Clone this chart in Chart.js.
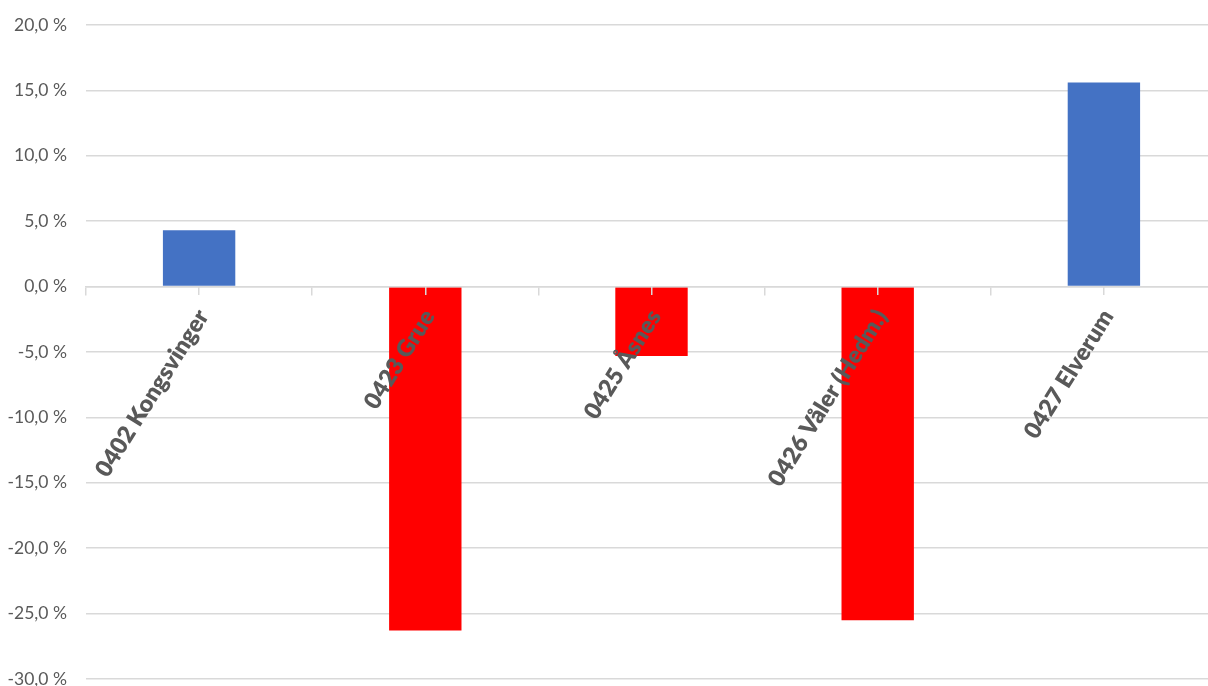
<!DOCTYPE html>
<html>
<head>
<meta charset="utf-8">
<script src="https://cdn.jsdelivr.net/npm/chart.js@4.4.1/dist/chart.umd.min.js"></script>
<style>
  html, body { margin: 0; padding: 0; background: #ffffff; overflow: hidden; }
  #frame { width: 1208px; height: 686px; overflow: hidden; }
  #wrap { width: 1217px; height: 686px; }
</style>
</head>
<body>
<div id="frame"><div id="wrap"><canvas id="changeChart"></canvas></div></div>
<script>
const kommuner = ["0402 Kongsvinger", "0423 Grue", "0425 Åsnes", "0426 Våler (Hedm.)", "0427 Elverum"];
const endring = [4.3, -26.3, -5.3, -25.5, 15.6];
const yMin = -30;
const yMax = 20;
const yStep = 5;

const gridColor = "#d9d9d9";
const textColor = "#595959";

const fmtPct = v => v.toFixed(1).replace(".", ",") + " %";

new Chart(document.getElementById("changeChart"), {
    type: "bar",
    data: {
        labels: kommuner,
        datasets: [{
            data: endring,
            backgroundColor: endring.map(v => v >= 0 ? "#4472C4" : "#FF0000"),
            barPercentage: 0.32,
            categoryPercentage: 1
        }]
    },
    options: {
        responsive: true,
        maintainAspectRatio: false,
        animation: false,
        layout: { padding: { top: 25, bottom: 7, left: 0, right: 0 } },
        plugins: {
            legend: { display: false },
            tooltip: { enabled: false }
        },
        scales: {
            x: {
                type: "category",
                position: { y: 0 },
                offset: true,
                border: { display: true, color: gridColor, width: 1.5, z: 1 },
                grid: { drawOnChartArea: false, drawTicks: true, tickLength: 8, color: gridColor, lineWidth: 1.5, offset: true, z: 1 },
                ticks: {
                    z: 1,
                    color: textColor,
                    font: { family: "Lato", size: 23.5, weight: 800 },
                    minRotation: 58,
                    maxRotation: 58,
                    autoSkip: false,
                    padding: 10,
                    labelOffset: 4
                }
            },
            x2: {
                type: "category",
                labels: kommuner,
                position: { y: 0 },
                offset: true,
                border: { display: false },
                grid: { drawOnChartArea: false, drawTicks: true, tickLength: 8, color: gridColor, lineWidth: 1.5, offset: false, z: 1 },
                ticks: { display: false }
            },
            y: {
                min: yMin,
                max: yMax,
                border: { display: false },
                grid: { color: gridColor, lineWidth: 1.5, drawTicks: false },
                ticks: {
                    stepSize: yStep,
                    color: textColor,
                    font: { family: "Lato", size: 17.5 },
                    padding: 19,
                    callback: v => fmtPct(v)
                },
                afterFit: s => { s.width = 86; s.paddingTop = 0; s.paddingBottom = 0; }
            }
        }
    }
});
</script>
</body>
</html>
